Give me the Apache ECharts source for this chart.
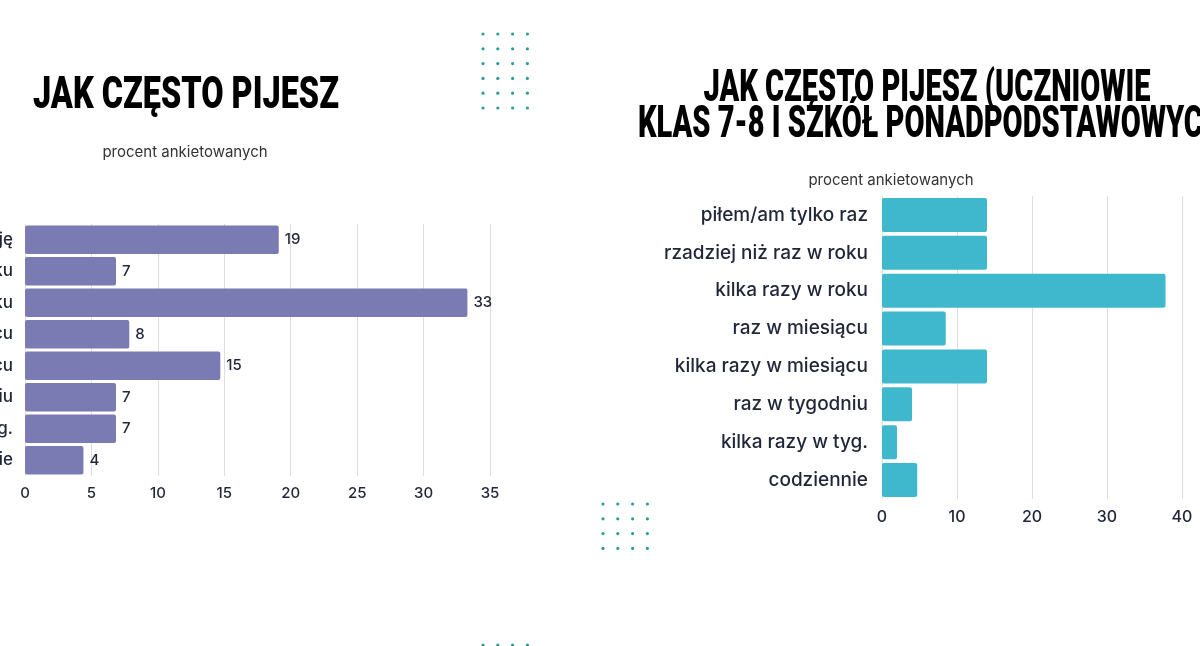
<!DOCTYPE html>
<html>
<head>
<meta charset="utf-8">
<script src="https://cdn.jsdelivr.net/npm/echarts@6/dist/echarts.min.js"></script>
<style>
	html, body { margin: 0; padding: 0; background: #fff; }
	#chart-container { width: 1200px; height: 646px; }
</style>
</head>
<body>
<div id="chart-container"></div>
<script>
// data
const categoriesAll = ['nie piję', 'rzadziej niż raz w roku', 'kilka razy w roku', 'raz w miesiącu',
	'kilka razy w miesiącu', 'raz w tygodniu', 'kilka razy w tyg.', 'codziennie'];
const valuesAll = [19.1, 6.85, 33.3, 7.85, 14.7, 6.85, 6.85, 4.4];

const categoriesStudents = ['piłem/am tylko raz', 'rzadziej niż raz w roku', 'kilka razy w roku', 'raz w miesiącu',
	'kilka razy w miesiącu', 'raz w tygodniu', 'kilka razy w tyg.', 'codziennie'];
const valuesStudents = [14, 14, 37.8, 8.5, 14, 4, 2, 4.7];

const titleLeft = 'JAK CZĘSTO PIJESZ';
const titleRight = ['JAK CZĘSTO PIJESZ (UCZNIOWIE', 'KLAS 7-8 I SZKÓŁ PONADPODSTAWOWYCH)'];
const subTitle = 'procent ankietowanych';

const font_main = 'Inter, "Noto Sans", sans-serif';
const font_title = 'Roboto, "Liberation Sans", sans-serif';
const textColor = '#1f2638';

// decorative dot grids
function dotGrid(x0, y0, cols, rows, step) {
	let dots = [];
	for (let r = 0; r < rows; r++) {
		for (let c = 0; c < cols; c++) {
			dots.push({
				type: 'circle',
				shape: {cx: x0 + c * step, cy: y0 + r * step, r: 1.6},
				style: {fill: '#2a9d94'},
				silent: true
			});
		}
	}
	return dots;
}

function titleText(text, x, y, align, size, sx) {
	return {
		type: 'text',
		x: x, y: y,
		scaleX: sx,
		style: {
			text: text,
			font: '900 ' + size + 'px ' + font_title,
			fill: '#000',
			textAlign: align,
			textVerticalAlign: 'top'
		}
	};
}

const chart = echarts.init(document.getElementById('chart-container'), null, {renderer: 'canvas'});

const axisLabelStyle = {color: textColor, fontFamily: font_main, fontWeight: 500};

chart.setOption({
	animation: false,
	backgroundColor: '#ffffff',
	grid: [
		{left: 25, top: 224, width: 465, height: 252, containLabel: false, outerBoundsMode: 'none'},
		{left: 882, top: 196, width: 300, height: 303, containLabel: false, outerBoundsMode: 'none'}
	],
	xAxis: [
		{
			gridIndex: 0, type: 'value', min: 0, max: 35, interval: 5,
			axisLine: {show: false}, axisTick: {show: false},
			splitLine: {lineStyle: {color: '#dedede'}},
			axisLabel: Object.assign({fontSize: 15, margin: 10}, axisLabelStyle)
		},
		{
			gridIndex: 1, type: 'value', min: 0, max: 40, interval: 10,
			axisLine: {show: false}, axisTick: {show: false},
			splitLine: {lineStyle: {color: '#dedede'}},
			axisLabel: Object.assign({fontSize: 16, margin: 10}, axisLabelStyle)
		}
	],
	yAxis: [
		{
			gridIndex: 0, type: 'category', inverse: true, data: categoriesAll,
			axisLine: {show: false}, axisTick: {show: false},
			axisLabel: Object.assign({fontSize: 17, margin: 12}, axisLabelStyle)
		},
		{
			gridIndex: 1, type: 'category', inverse: true, data: categoriesStudents,
			axisLine: {show: false}, axisTick: {show: false},
			axisLabel: Object.assign({fontSize: 19, margin: 14}, axisLabelStyle)
		}
	],
	series: [
		{
			type: 'bar', xAxisIndex: 0, yAxisIndex: 0, data: valuesAll,
			barCategoryGap: '9%',
			itemStyle: {color: '#7b7bb4', borderRadius: 2},
			label: {
				show: true, position: 'right', distance: 6,
				color: textColor, fontFamily: font_main, fontSize: 15, fontWeight: 500,
				formatter: p => Math.round(p.value)
			}
		},
		{
			type: 'bar', xAxisIndex: 1, yAxisIndex: 1, data: valuesStudents,
			barCategoryGap: '10%',
			itemStyle: {color: '#3fb8cd', borderRadius: 2}
		}
	],
	graphic: [
		titleText(titleLeft, 33, 74, 'left', 45, 0.72),
		titleText(titleRight[0], 927, 68, 'center', 44, 0.66),
		titleText(titleRight[1], 638, 104, 'left', 44, 0.66),
		{
			type: 'text', x: 185, y: 152,
			style: {text: subTitle, font: '15px ' + font_main, fill: '#333', textAlign: 'center', textVerticalAlign: 'middle'}
		},
		{
			type: 'text', x: 891, y: 180,
			style: {text: subTitle, font: '15px ' + font_main, fill: '#333', textAlign: 'center', textVerticalAlign: 'middle'}
		}
	].concat(dotGrid(483, 34, 4, 6, 14.8), dotGrid(603, 504, 4, 4, 14.8), dotGrid(483, 645, 4, 1, 14.8))
});
</script>
</body>
</html>
